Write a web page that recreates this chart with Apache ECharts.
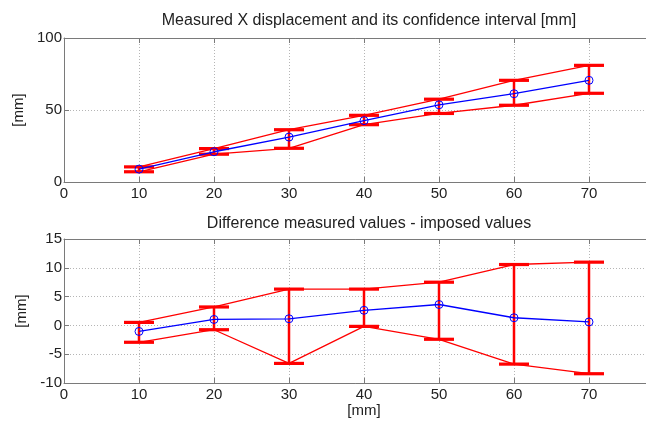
<!DOCTYPE html>
<html>
<head>
<meta charset="utf-8">
<script src="https://cdn.jsdelivr.net/npm/echarts@6/dist/echarts.min.js"></script>
<style>
  html, body { margin: 0; padding: 0; background: #fff; }
  #chart { width: 646px; height: 421px; }
</style>
</head>
<body>
<div id="chart"></div>
<script>
// imposed displacement (x axis)
const imposed = [10, 20, 30, 40, 50, 60, 70]
// top plot: measured value and its confidence interval
const measured = [8.95, 21.0, 31.2, 42.6, 53.6, 61.3, 70.6]
const measuredUpper = [10.5, 23.2, 36.3, 46.3, 57.5, 70.6, 81.0]
const measuredLower = [7.1, 19.3, 23.4, 39.8, 47.6, 53.3, 61.6]
// bottom plot: measured - imposed
const diff = [-1.05, 1.03, 1.15, 2.62, 3.63, 1.33, 0.6]
const diffUpper = [0.52, 3.2, 6.3, 6.3, 7.5, 10.57, 10.98]
const diffLower = [-2.93, -0.75, -6.6, -0.17, -2.41, -6.72, -8.39]
// axis ticks
const xTicks = { min: 0, max: 80, interval: 10 }
const yTopTicks = { min: 0, max: 100, interval: 50 }
const yBottomTicks = { min: -10, max: 15, interval: 5 }

const chart = echarts.init(document.getElementById('chart'))

const gray = '#7a7a7a'
const textColor = '#222'
const font = 'Arial, "Liberation Sans", Helvetica, sans-serif'

const pairs = (xs, ys) => xs.map((x, i) => [x, ys[i]])

// error bar with wide caps, drawn through the axis scale
function renderErrorBar(params, api) {
  const x = api.value(0)
  const lo = api.coord([x, api.value(1)])
  const hi = api.coord([x, api.value(2)])
  const w = 15
  const red = '#ff0000'
  return {
    type: 'group',
    children: [
      { type: 'line', shape: { x1: lo[0], y1: lo[1], x2: hi[0], y2: hi[1] }, style: { stroke: red, lineWidth: 2.5 } },
      { type: 'line', shape: { x1: hi[0] - w, y1: hi[1], x2: hi[0] + w, y2: hi[1] }, style: { stroke: red, lineWidth: 3.2 } },
      { type: 'line', shape: { x1: lo[0] - w, y1: lo[1], x2: lo[0] + w, y2: lo[1] }, style: { stroke: red, lineWidth: 3.2 } },
    ],
  }
}

function bottomX(gridIndex, name) {
  return {
    type: 'value',
    gridIndex,
    position: 'bottom',
    ...xTicks,
    name: name || '',
    nameLocation: 'middle',
    nameGap: 20,
    nameTextStyle: { color: textColor, fontSize: 15, fontFamily: font },
    axisLine: { show: true, onZero: false, lineStyle: { color: gray } },
    axisTick: { show: true, inside: true, length: 5, lineStyle: { color: gray } },
    axisLabel: { color: textColor, fontSize: 15, fontFamily: font, margin: 4 },
    splitLine: { show: true, lineStyle: { color: '#b5b5b5', type: [1, 2] } },
  }
}

function topX(gridIndex) {
  return {
    type: 'value',
    gridIndex,
    position: 'top',
    ...xTicks,
    axisLine: { show: true, onZero: false, lineStyle: { color: gray } },
    axisTick: { show: true, inside: true, length: 5, lineStyle: { color: gray } },
    axisLabel: { show: false },
    splitLine: { show: false },
  }
}

function leftY(gridIndex, ticks, nameGap) {
  return {
    type: 'value',
    gridIndex,
    ...ticks,
    name: '[mm]',
    nameLocation: 'middle',
    nameGap,
    nameTextStyle: { color: textColor, fontSize: 15, fontFamily: font },
    axisLine: { show: true, onZero: false, lineStyle: { color: gray } },
    axisTick: { show: true, inside: true, length: 5, lineStyle: { color: gray } },
    axisLabel: { color: textColor, fontSize: 15, fontFamily: font, margin: 2 },
    splitLine: { show: true, lineStyle: { color: '#b5b5b5', type: [1, 2] } },
  }
}

function redLine(xAxisIndex, yAxisIndex, ys) {
  return {
    type: 'line',
    xAxisIndex, yAxisIndex,
    data: pairs(imposed, ys),
    symbol: 'none',
    lineStyle: { color: '#ff0000', width: 1.3 },
    z: 2,
  }
}

function errorBars(xAxisIndex, yAxisIndex, lows, highs) {
  return {
    type: 'custom',
    xAxisIndex, yAxisIndex,
    data: imposed.map((x, i) => [x, lows[i], highs[i]]),
    encode: { x: 0, y: [1, 2] },
    renderItem: renderErrorBar,
    z: 3,
  }
}

function blueLine(xAxisIndex, yAxisIndex, ys) {
  return {
    type: 'line',
    xAxisIndex, yAxisIndex,
    data: pairs(imposed, ys),
    symbol: 'circle',
    symbolSize: 8,
    lineStyle: { color: '#0000ff', width: 1.3 },
    itemStyle: { color: 'rgba(0,0,0,0)', borderColor: '#0000ff', borderWidth: 1 },
    z: 4,
  }
}

const option = {
  backgroundColor: '#fff',
  animation: false,
  title: [
    {
      text: 'Measured X displacement and its confidence interval [mm]',
      left: 364, top: 8, textAlign: 'center',
      textStyle: { color: textColor, fontSize: 16, fontWeight: 'normal', fontFamily: font },
    },
    {
      text: 'Difference measured values - imposed values',
      left: 364, top: 211, textAlign: 'center',
      textStyle: { color: textColor, fontSize: 16, fontWeight: 'normal', fontFamily: font },
    },
  ],
  // the original plot is cropped on the right, so the grids run past the canvas edge
  grid: [
    { left: 64, top: 38, width: 600, height: 144, outerBoundsMode: 'none' },
    { left: 64, top: 239, width: 600, height: 144, outerBoundsMode: 'none' },
  ],
  xAxis: [bottomX(0), topX(0), bottomX(1, '[mm]'), topX(1)],
  yAxis: [leftY(0, yTopTicks, 35), leftY(1, yBottomTicks, 30)],
  series: [
    redLine(0, 0, measuredUpper),
    redLine(0, 0, measuredLower),
    errorBars(0, 0, measuredLower, measuredUpper),
    blueLine(0, 0, measured),
    redLine(2, 1, diffUpper),
    redLine(2, 1, diffLower),
    errorBars(2, 1, diffLower, diffUpper),
    blueLine(2, 1, diff),
  ],
}

chart.setOption(option)
</script>
</body>
</html>
